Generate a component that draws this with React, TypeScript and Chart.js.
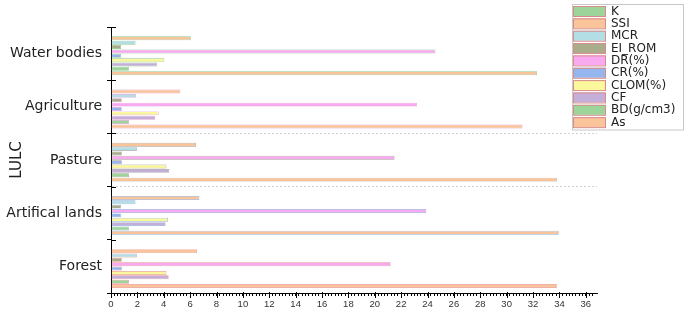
import React, { useEffect, useRef } from 'react';
import { Chart, registerables } from 'chart.js';
Chart.register(...registerables);

const categories = ['Water bodies', 'Agriculture', 'Pasture', 'Artifical lands', 'Forest'];
const seriesNames = ['K', 'SSI', 'MCR', 'EI_ROM', 'DR(%)', 'CR(%)', 'CLOM(%)', 'CF', 'BD(g/cm3)', 'As'];

const K = [0.02, 0.02, 0.02, 0.02, 0.02];
const SSI = [6.05, 5.26, 6.45, 6.7, 6.53];
const MCR = [1.86, 1.89, 1.96, 1.86, 1.96];
const EI_ROM = [0.77, 0.82, 0.82, 0.77, 0.82];
const DR = [24.6, 23.2, 21.5, 23.9, 21.2];
const CR = [0.77, 0.82, 0.82, 0.77, 0.82];
const CLOM = [4.04, 3.61, 4.2, 4.32, 4.2];
const CF = [3.5, 3.36, 4.42, 4.14, 4.37];
const BD = [1.36, 1.38, 1.36, 1.36, 1.36];
const As = [32.3, 31.2, 33.8, 33.95, 33.8];

const seriesValues = [K, SSI, MCR, EI_ROM, DR, CR, CLOM, CF, BD, As];
const fillColors = ['#9dd49a', '#f9c49a', '#b3dee5', '#a9ad8c', '#f9a9f0', '#95b5ee', '#fbf79c', '#c3afd7', '#9dd49a', '#f9c49a'];
const categoryBorders = ['rgba(110,180,110,0.75)', 'rgba(214,130,200,0.75)', 'rgba(130,125,115,0.75)', 'rgba(110,150,210,0.75)', 'rgba(220,110,110,0.75)'];

const xMin = 0;
const xMax = 36.85;
const xStep = 0.25;
const xLabelStep = 2;
const xLabelMax = 36;

const decorPlugin = {
  id: 'decor',
  afterDraw(chart: any) {
    const { ctx, chartArea } = chart;
    const x = chart.scales.x;
    const y = chart.scales.y;
    ctx.save();
    ctx.strokeStyle = '#000';
    ctx.lineWidth = 1;
    ctx.beginPath();
    for (let i = 0; i <= categories.length; i++) {
      const py = Math.round(y.getPixelForValue(i - 0.5)) + 0.5;
      ctx.moveTo(chartArea.left, py);
      ctx.lineTo(chartArea.left + 5, py);
    }
    for (const t of x.ticks) {
      if (Math.abs(t.value % xLabelStep) < 1e-6) {
        const px = Math.round(x.getPixelForValue(t.value)) + 0.5;
        ctx.moveTo(px, chartArea.bottom - 1);
        ctx.lineTo(px, chartArea.bottom + 5);
      }
    }
    ctx.stroke();

    // legend
    const lx = 572, ly = 4, rowH = 12.35, swW = 32, swH = 10;
    ctx.fillStyle = '#fff';
    ctx.fillRect(lx, ly, 111, rowH * seriesNames.length + 2);
    ctx.strokeStyle = '#c8c8c8';
    ctx.strokeRect(lx + 0.5, ly + 0.5, 111, rowH * seriesNames.length + 2);
    ctx.font = '12px "DejaVu Sans"';
    ctx.textBaseline = 'middle';
    ctx.textAlign = 'left';
    chart.data.datasets.forEach((ds: any, i: number) => {
      const top = ly + 2 + i * rowH;
      ctx.fillStyle = ds.backgroundColor;
      ctx.fillRect(lx + 1.5, top, swW, swH);
      ctx.strokeStyle = '#d98a8a';
      ctx.strokeRect(lx + 1.5, top + 0.5, swW, swH);
      ctx.fillStyle = '#222';
      ctx.fillText(ds.label, lx + 39, top + swH / 2 + 0.5);
    });
    ctx.restore();
  },
};

export default function App() {
  const ref = useRef<HTMLCanvasElement>(null);
  useEffect(() => {
    document.body.style.margin = '0';
    const chart = new Chart(ref.current as HTMLCanvasElement, {
      type: 'bar',
      data: {
        labels: categories,
        datasets: seriesNames.map((name, i) => ({
          label: name,
          data: seriesValues[i],
          backgroundColor: fillColors[i],
          borderColor: categoryBorders,
          borderWidth: 0.7,
          borderSkipped: false,
          categoryPercentage: 0.82,
          barPercentage: 0.9,
        })),
      },
      options: {
        indexAxis: 'y',
        animation: false,
        responsive: false,
        maintainAspectRatio: false,
        layout: { padding: { top: 27, right: 88, bottom: 0, left: 0 } },
        plugins: { legend: { display: false }, tooltip: { enabled: false } },
        scales: {
          x: {
            type: 'linear',
            min: xMin,
            max: xMax,
            afterBuildTicks: (scale: any) => {
              scale.ticks = scale.ticks.filter((t: any) => Math.abs(t.value / xStep - Math.round(t.value / xStep)) < 1e-6);
            },
            afterFit: (scale: any) => { scale.height = 18; },
            ticks: {
              stepSize: xStep,
              autoSkip: false,
              maxRotation: 0,
              padding: 3,
              color: '#333',
              font: { family: '"Liberation Sans", Arial', size: 9.5 },
              callback: (v: any) => (Math.abs(v % xLabelStep) < 1e-6 && v <= xLabelMax ? String(v) : ''),
            },
            grid: { drawOnChartArea: false, drawTicks: true, tickLength: 3, tickColor: '#000' },
            border: { display: true, color: '#000', width: 1 },
          },
          y: {
            type: 'category',
            afterFit: (scale: any) => { scale.width = 111; },
            ticks: {
              color: '#222',
              padding: 5,
              font: { family: '"DejaVu Sans"', size: 14 },
            },
            grid: {
              offset: true,
              drawTicks: true,
              tickLength: 4,
              tickColor: '#000',
              color: (c: any) => (c.index === 2 || c.index === 3 ? '#cfcfcf' : 'rgba(0,0,0,0)'),
            },
            border: { display: true, color: '#000', width: 1, dash: [2, 2] },
            title: {
              display: true,
              text: 'LULC',
              color: '#222',
              font: { family: '"DejaVu Sans"', size: 15 },
              padding: { top: 8, bottom: 0 },
            },
          },
        },
      },
      plugins: [decorPlugin],
    } as any);
    return () => chart.destroy();
  }, []);
  return (
    <div style={{ width: 685, height: 311 }}>
      <canvas ref={ref} width={685} height={311} />
    </div>
  );
}
